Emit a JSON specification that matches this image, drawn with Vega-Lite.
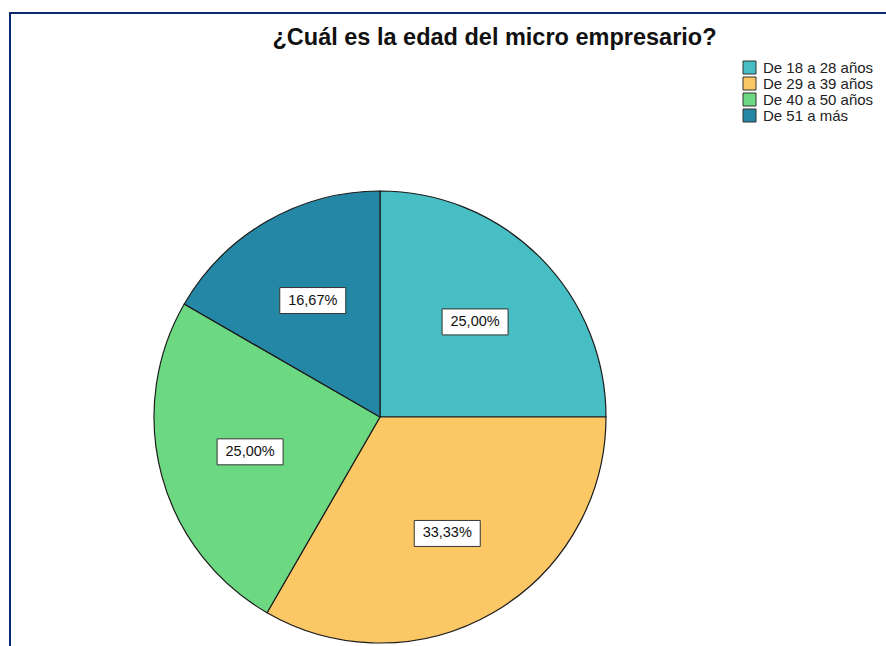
{
  "$schema": "https://vega.github.io/schema/vega-lite/v6.json",
  "autosize": "none",
  "width": 877,
  "height": 634,
  "padding": {"left": 10, "top": 13, "right": -1, "bottom": -1},
  "background": "white",
  "title": {
    "text": "¿Cuál es la edad del micro empresario?",
    "font": "Liberation Sans",
    "fontSize": 23.5,
    "fontWeight": "bold",
    "color": "#111111",
    "anchor": "middle",
    "baseline": "alphabetic",
    "offset": 0,
    "dx": 46,
    "dy": 55
  },
  "data": {
    "values": [
      {"edad": "De 18 a 28 años", "orden": 1, "porcentaje": 0.25},
      {"edad": "De 29 a 39 años", "orden": 2, "porcentaje": 0.3333},
      {"edad": "De 40 a 50 años", "orden": 3, "porcentaje": 0.25},
      {"edad": "De 51 a más", "orden": 4, "porcentaje": 0.1667}
    ]
  },
  "transform": [
    {"window": [{"op": "sum", "field": "porcentaje", "as": "acumulado"}], "sort": [{"field": "orden"}]},
    {"calculate": "(datum.acumulado - datum.porcentaje / 2) * 2 * PI", "as": "angulo"},
    {"calculate": "0.595 * sin(datum.angulo)", "as": "lx"},
    {"calculate": "0.595 * cos(datum.angulo)", "as": "ly"}
  ],
  "layer": [
    {
      "mark": {"type": "arc", "outerRadius": 226, "stroke": "#1c1c1c", "strokeWidth": 1.2},
      "encoding": {
        "theta": {"field": "porcentaje", "type": "quantitative", "stack": true},
        "order": {"field": "orden", "type": "quantitative"},
        "color": {
          "field": "edad",
          "type": "nominal",
          "scale": {
            "domain": ["De 18 a 28 años", "De 29 a 39 años", "De 40 a 50 años", "De 51 a más"],
            "range": ["#46BEC3", "#FCC865", "#6DD882", "#2387A5"]
          },
          "legend": {
            "orient": "none",
            "legendX": 732,
            "legendY": 47,
            "title": null,
            "padding": 0,
            "symbolType": "square",
            "symbolSize": 169,
            "symbolStrokeColor": "#333333",
            "symbolStrokeWidth": 1,
            "symbolOpacity": 1,
            "labelFont": "Liberation Sans",
            "labelFontSize": 15,
            "labelColor": "#222222",
            "labelOffset": 6,
            "rowPadding": -6
          }
        },
        "x": {"datum": 0, "type": "quantitative", "scale": {"domain": [-1, 1], "range": [144, 596], "nice": false, "zero": false}, "axis": null},
        "y": {"datum": 0, "type": "quantitative", "scale": {"domain": [-1, 1], "range": [630, 178], "nice": false, "zero": false}, "axis": null}
      }
    },
    {
      "mark": {"type": "point", "shape": "M-1,-0.394H1V0.394H-1Z", "size": 4356, "filled": true, "fill": "white", "stroke": "#333333", "strokeWidth": 1, "opacity": 1},
      "encoding": {
        "x": {"field": "lx", "type": "quantitative", "scale": {"domain": [-1, 1], "range": [144, 596], "nice": false, "zero": false}, "axis": null},
        "y": {"field": "ly", "type": "quantitative", "scale": {"domain": [-1, 1], "range": [630, 178], "nice": false, "zero": false}, "axis": null}
      }
    },
    {
      "mark": {"type": "text", "font": "Liberation Sans", "fontSize": 14.5, "color": "#111111"},
      "encoding": {
        "x": {"field": "lx", "type": "quantitative", "scale": {"domain": [-1, 1], "range": [144, 596], "nice": false, "zero": false}, "axis": null},
        "y": {"field": "ly", "type": "quantitative", "scale": {"domain": [-1, 1], "range": [630, 178], "nice": false, "zero": false}, "axis": null},
        "text": {"field": "porcentaje", "type": "quantitative", "format": ".2%"}
      }
    }
  ],
  "config": {
    "view": {"stroke": "#0d2a70", "strokeWidth": 2},
    "locale": {"number": {"decimal": ",", "thousands": ".", "grouping": [3], "currency": ["", " €"]}}
  }
}
